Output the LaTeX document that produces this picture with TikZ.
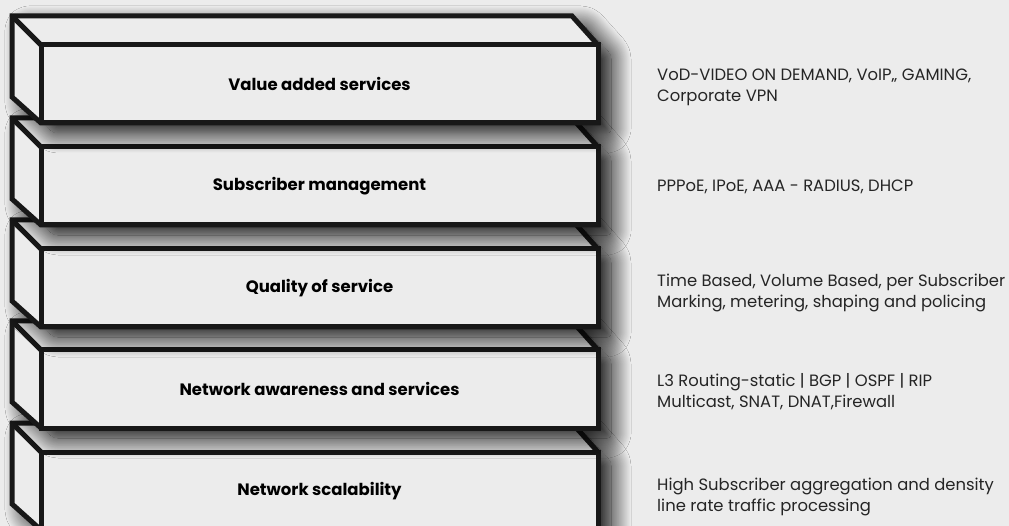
\documentclass[tikz,border=0pt]{standalone}
\usepackage{fontspec}
\setmainfont{Poppins}
\usetikzlibrary{shadows.blur}
\definecolor{paper}{HTML}{ECECEC}
\definecolor{ink}{HTML}{181818}
\definecolor{notegray}{HTML}{252525}

\tikzset{
  rim/.style={draw=ink, line width=5pt, line join=miter},
  shell/.style={rim, fill=paper, blur shadow={shadow xshift=13pt, shadow yshift=-10pt, shadow blur radius=20pt, shadow blur steps=30, shadow opacity=100, shadow blur extra rounding=4pt}},
  front/.style={rim, fill=paper, minimum width=557pt, minimum height=78pt, inner sep=0pt, font=\bfseries\fontsize{16.5}{18}\selectfont},
  note/.style={anchor=west, align=left, text=notegray, inner sep=0pt, font=\fontsize{16.4}{21}\selectfont},
}

\begin{document}
\begin{tikzpicture}[x=1pt, y=-1pt]
    \useasboundingbox (0,0) rectangle (1009,526);
    \fill[paper] (0,0) rectangle (1009,526);
    % bottom layer first, so the upper ones overlap it
    \begin{scope}[shift={(0,407)}]
      \path[shell] (12,16) -- (572,16) -- (598,45) -- (598,123) -- (41,123) -- (12,97) -- cycle;
      \draw[rim] (12,16) -- (41,45);
      \node[front] (scal) at (319.5,84) {Network scalability};
      \node[note] (scalnote) at (657,90) {High Subscriber aggregation and density\\line rate traffic processing};
    \end{scope}
    \begin{scope}[shift={(0,305)}]
      \path[shell] (12,16) -- (572,16) -- (598,45) -- (598,123) -- (41,123) -- (12,97) -- cycle;
      \draw[rim] (12,16) -- (41,45);
      \node[front] (aware) at (319.5,84) {Network awareness and services};
      \node[note] (awarenote) at (657,87) {L3 Routing-static | BGP | OSPF | RIP\\Multicast, SNAT, DNAT,Firewall};
    \end{scope}
    \begin{scope}[shift={(0,204)}]
      \path[shell] (12,16) -- (572,16) -- (598,45) -- (598,123) -- (41,123) -- (12,97) -- cycle;
      \draw[rim] (12,16) -- (41,45);
      \node[front] (qos) at (319.5,84) {Quality of service};
      \node[note] (qosnote) at (657,89) {Time Based, Volume Based, per Subscriber\\Marking, metering, shaping and policing};
    \end{scope}
    \begin{scope}[shift={(0,102)}]
      \path[shell] (12,16) -- (572,16) -- (598,45) -- (598,123) -- (41,123) -- (12,97) -- cycle;
      \draw[rim] (12,16) -- (41,45);
      \node[front] (subs) at (319.5,84) {Subscriber management};
      \node[note] (subsnote) at (657,85) {PPPoE, IPoE, AAA - RADIUS, DHCP};
    \end{scope}
    \begin{scope}[shift={(0,0)}]
      \path[shell] (12,16) -- (572,16) -- (598,45) -- (598,123) -- (41,123) -- (12,97) -- cycle;
      \draw[rim] (12,16) -- (41,45);
      \node[front] (vas) at (319.5,84) {Value added services};
      \node[note] (vasnote) at (657,87) {VoD-VIDEO ON DEMAND, VoIP,, GAMING,\\Corporate VPN};
    \end{scope}
  \end{tikzpicture}
\end{document}
